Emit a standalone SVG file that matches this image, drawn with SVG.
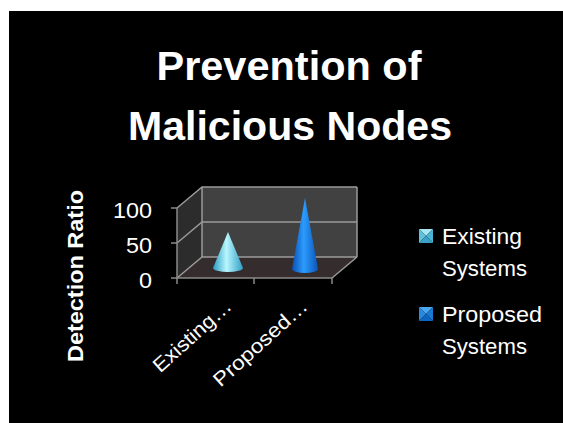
<svg xmlns="http://www.w3.org/2000/svg" width="563" height="423" viewBox="0 0 563 423">
<style>
.t{font-family:"Liberation Sans",Arial,sans-serif;fill:#fff}
.title{font-size:40px;font-weight:bold}
.ax{font-size:22px}
.cat{font-size:20px}
.lg{font-size:22px}
.grid{stroke:#9a9a9a;stroke-width:1.5;fill:none}
.tick{stroke:#8a8a8a;stroke-width:1.5;fill:none}
</style>
<defs>
<linearGradient id="gE" x1="0" y1="0" x2="1" y2="0">
<stop offset="0" stop-color="#2a9cc0"/>
<stop offset="0.45" stop-color="#b8f6ff"/>
<stop offset="1" stop-color="#2f9ec4"/>
</linearGradient>
<linearGradient id="gP" x1="0" y1="0" x2="1" y2="0">
<stop offset="0" stop-color="#0a4fb0"/>
<stop offset="0.45" stop-color="#2c9cff"/>
<stop offset="1" stop-color="#0b55b8"/>
</linearGradient>
</defs>
<rect x="0" y="0" width="563" height="423" fill="#fff"/>
<rect x="9" y="11" width="554" height="412" fill="#000"/>
<g id="title">
<text class="t title" x="289" y="80" text-anchor="middle" textLength="265" lengthAdjust="spacingAndGlyphs">Prevention of</text>
<text class="t title" x="290" y="140" text-anchor="middle" textLength="324" lengthAdjust="spacingAndGlyphs">Malicious Nodes</text>
</g>
<g id="chart">
<polygon points="177,208 202,187 202,257 177,278" fill="#2c2c2c"/>
<rect x="202" y="187" width="155" height="70" fill="#414141"/>
<polygon points="177,278 332,278 357,257 202,257" fill="#352d2d"/>
<g class="grid">
<polyline points="177,208 202,187 357,187"/>
<polyline points="177,243 202,222 357,222"/>
<polyline points="177,278 202,257 357,257"/>
<line x1="357" y1="187" x2="357" y2="257"/>
<line x1="202" y1="187" x2="202" y2="257"/>
<line x1="332" y1="278" x2="357" y2="257"/>
</g>
<g class="tick">
<line x1="177" y1="208" x2="177" y2="278"/>
<line x1="177" y1="278" x2="332" y2="278"/>
<line x1="171" y1="208" x2="177" y2="208"/>
<line x1="171" y1="243" x2="177" y2="243"/>
<line x1="171" y1="278" x2="177" y2="278"/>
<line x1="177" y1="278" x2="177" y2="284"/>
<line x1="254" y1="278" x2="254" y2="284"/>
<line x1="332" y1="278" x2="332" y2="284"/>
</g>
<g id="cone-existing">
<path d="M213,268 L228,232 L243,268 A15,4 0 0 1 213,268 Z" fill="url(#gE)"/>
</g>
<g id="cone-proposed">
<path d="M292,269 L305,198 L318,269 A13,4 0 0 1 292,269 Z" fill="url(#gP)"/>
</g>
<text class="t ax" x="152" y="218" text-anchor="end" textLength="39" lengthAdjust="spacingAndGlyphs">100</text>
<text class="t ax" x="152" y="253" text-anchor="end" textLength="26" lengthAdjust="spacingAndGlyphs">50</text>
<text class="t ax" x="152" y="288" text-anchor="end" textLength="13" lengthAdjust="spacingAndGlyphs">0</text>
<text class="t ax" font-weight="bold" transform="translate(83,276) rotate(-90)" text-anchor="middle" textLength="172" lengthAdjust="spacingAndGlyphs">Detection Ratio</text>
<text class="t cat" transform="translate(233,308) rotate(-42)" text-anchor="end" textLength="98" lengthAdjust="spacingAndGlyphs">Existing…</text>
<text class="t cat" transform="translate(309,308) rotate(-42)" text-anchor="end" textLength="119" lengthAdjust="spacingAndGlyphs">Proposed…</text>
</g>
<g id="legend-existing">
<polygon points="419,229 433,229 426,236" fill="#a6e6f2"/>
<polygon points="419,229 426,236 419,243" fill="#5ec2dc"/>
<polygon points="433,229 433,243 426,236" fill="#4ab2d2"/>
<polygon points="419,243 433,243 426,236" fill="#3aa2c4"/>
<text class="t lg" x="442" y="244" textLength="80" lengthAdjust="spacingAndGlyphs">Existing</text>
<text class="t lg" x="442" y="276" textLength="85" lengthAdjust="spacingAndGlyphs">Systems</text>
</g>
<g id="legend-proposed">
<polygon points="419,307 433,307 426,314" fill="#4aa8f0"/>
<polygon points="419,307 426,314 419,321" fill="#2a88e0"/>
<polygon points="433,307 433,321 426,314" fill="#1a78d0"/>
<polygon points="419,321 433,321 426,314" fill="#0f66c0"/>
<text class="t lg" x="442" y="322" textLength="100" lengthAdjust="spacingAndGlyphs">Proposed</text>
<text class="t lg" x="442" y="354" textLength="85" lengthAdjust="spacingAndGlyphs">Systems</text>
</g>
</svg>
